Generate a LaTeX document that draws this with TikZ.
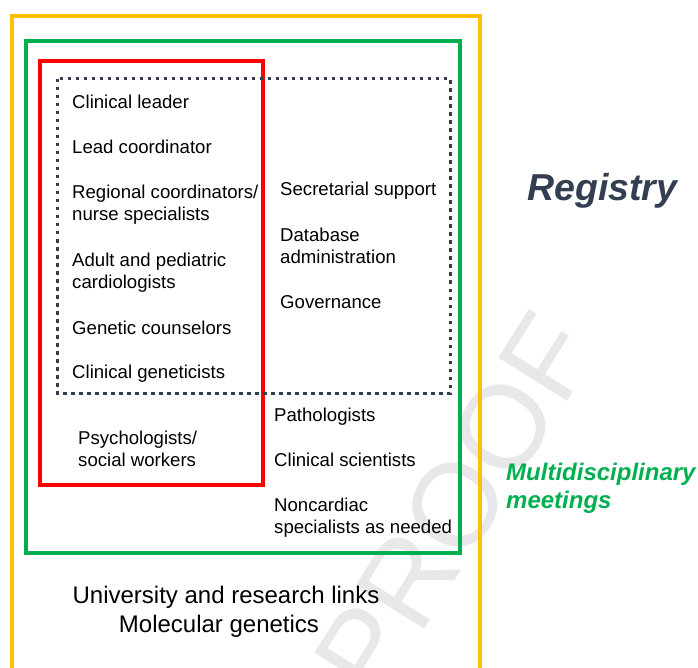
\documentclass[tikz,border=0pt]{standalone}
\usepackage{fontspec}
\setmainfont{Liberation Sans}
\usetikzlibrary{positioning}

\definecolor{regyellow}{HTML}{FFC000}
\definecolor{mdmgreen}{HTML}{00B050}
\definecolor{coreRed}{HTML}{FF0000}
\definecolor{slate}{HTML}{333F50}
\definecolor{wmgrey}{HTML}{E8E8EA}

\tikzset{
  member/.style={anchor=base west, align=left, inner sep=0pt,
    font=\fontsize{18.6}{22}\selectfont},
  boxline/.style={line width=3.2pt},
  dotline/.style={line width=3pt, color=slate, dash pattern=on 3.5pt off 4.5pt},
  sidelabel/.style={anchor=base west, align=left, inner sep=0pt,
    font=\bfseries\itshape},
  bigline/.style={anchor=base, inner sep=0pt, font=\fontsize{24}{29}\selectfont}
}

\begin{document}
\begin{tikzpicture}[x=1pt, y=-1pt]
    \useasboundingbox (0,0) rectangle (698,668);

    % watermark
    \node (proof) [rotate=58, text=wmgrey, inner sep=0pt,
      font=\fontsize{118}{118}\selectfont] at (455,505) {PROOF};

    % boxes
    \draw [boxline, regyellow] (12,690) -- (12,16) -- (480,16) -- (480,690);
    \draw [boxline, mdmgreen] (26,41) rectangle (460,553);
    \draw [boxline, coreRed] (40,61) rectangle (263,485);
    \draw [dotline] (57,79) rectangle (450,393);

    % core team (base = last line)
    \node (leader) [member] at (72,109) {Clinical leader};
    \node (lead) [member] at (72,154) {Lead coordinator};
    \node (regional) [member] at (72,221) {Regional coordinators/\\nurse specialists};
    \node (cardio) [member] at (72,288.5) {Adult and pediatric\\cardiologists};
    \node (counsel) [member] at (72,334) {Genetic counselors};
    \node (genet) [member] at (72,378) {Clinical geneticists};
    \node (psych) [member] at (78,466) {Psychologists/\\social workers};

    % support
    \node (secr) [member] at (280,196) {Secretarial support};
    \node (dbadmin) [member] at (280,263) {Database\\administration};
    \node (gov) [member] at (280,308) {Governance};

    % other specialists
    \node (path) [member] at (274,421) {Pathologists};
    \node (sci) [member] at (274,466) {Clinical scientists};
    \node (noncard) [member] at (274,533) {Noncardiac\\specialists as needed};

    \node (links) [bigline] at (226,603.5) {University and research links};
    \node (molgen) [bigline] at (219,632.5) {Molecular genetics};

    % labels
    \node (registry) [sidelabel, text=slate, font=\fontsize{37.5}{40}\selectfont\bfseries\itshape]
      at (527,201) {Registry};
    \node (mdm) [sidelabel, text=mdmgreen, font=\fontsize{24}{28}\selectfont\bfseries\itshape]
      at (506,508.5) {Multidisciplinary\\meetings};
\end{tikzpicture}
\end{document}
